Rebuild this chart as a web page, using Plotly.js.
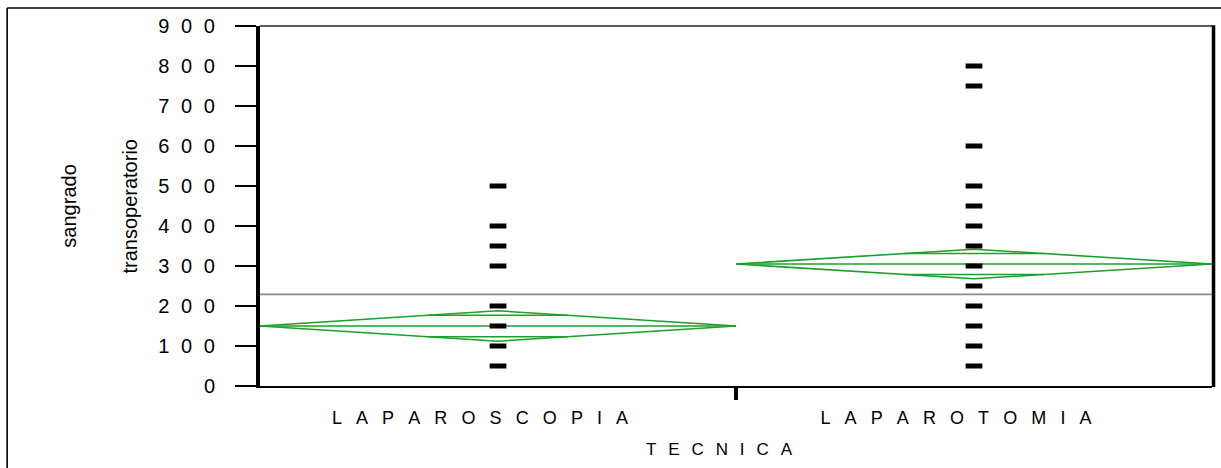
<!DOCTYPE html>
<html>
<head>
<meta charset="utf-8">
<script src="https://cdn.plot.ly/plotly-3.0.1.min.js"></script>
<style>html,body{margin:0;padding:0;background:#fff;}#chart{width:1221px;height:468px;}</style>
</head>
<body>
<div id="chart"></div>
<script>
// ---- data ----
const categories = ['LAPAROSCOPIA', 'LAPAROTOMIA'];
const laparoscopiaValues = [50, 100, 150, 200, 300, 350, 400, 500];
const laparotomiaValues = [50, 100, 150, 200, 250, 300, 350, 400, 450, 500, 600, 750, 800];
const groupMeans = [150, 305];
const ciHalfWidths = [38, 37];
const grandMean = 229;
const yTickVals = [0, 100, 200, 300, 400, 500, 600, 700, 800, 900];
const xTitle = 'TECNICA';
const yTitleLines = ['sangrado', 'transoperatorio'];

// ---- helpers ----
const spaced = (s, gap) => s.split('').join(gap);
const GREEN = '#1c9f2c';
const FONT = 'Liberation Sans, Arial, sans-serif';
const PAD = '\u2003\u2003\u200B';  // trailing pad: the labels sit slightly left of centre in the reference

const traces = [];

// grand mean line
traces.push({
  x: [-0.5, 1.5], y: [grandMean, grandMean],
  mode: 'lines', line: {color: '#8a8a8a', width: 1.6},
  hoverinfo: 'skip', showlegend: false
});

// means diamonds
categories.forEach((c, i) => {
  const m = groupMeans[i], h = ciHalfWidths[i];
  const o = h / Math.SQRT2;
  const d = 0.5 * (1 - 1 / Math.SQRT2);
  traces.push({
    x: [i - 0.5, i, i + 0.5, i, i - 0.5, null,
        i - 0.5, i + 0.5, null,
        i - d, i + d, null,
        i - d, i + d],
    y: [m, m + h, m, m - h, m, null,
        m, m, null,
        m + o, m + o, null,
        m - o, m - o],
    mode: 'lines', line: {color: GREEN, width: 1.6},
    connectgaps: false, hoverinfo: 'skip', showlegend: false
  });
});

// individual observations
[laparoscopiaValues, laparotomiaValues].forEach((vals, i) => {
  traces.push({
    x: vals.map(() => i), y: vals,
    mode: 'markers', type: 'scatter',
    marker: {symbol: 'line-ew', size: 12, line: {width: 5, color: '#000'}, color: '#000'},
    showlegend: false, cliponaxis: false
  });
});

const layout = {
  width: 1221, height: 468,
  margin: {l: 260, r: 9, t: 26, b: 82},
  paper_bgcolor: '#fff', plot_bgcolor: '#fff',
  font: {family: FONT, color: '#000'},
  showlegend: false,
  xaxis: {
    range: [-0.5, 1.5],
    tickmode: 'array', tickvals: [0, 1],
    ticktext: categories.map(c => spaced(c, '\u2002\u2009\u200A') + PAD),
    ticks: '', showgrid: false, zeroline: false,
    showline: true, linewidth: 2, linecolor: '#000',
    tickfont: {size: 18, family: FONT, color: '#000'},
    ticklabelstandoff: 14,
    minor: {tickmode: 'array', tickvals: [0.5], ticks: 'outside', ticklen: 12, tickwidth: 4, tickcolor: '#000', showgrid: false},
    title: {text: spaced(xTitle, '\u2002\u2009') + PAD, font: {size: 17, family: FONT, color: '#000'}, standoff: 17},
    fixedrange: true
  },
  yaxis: {
    range: [0, 900],
    tickmode: 'array', tickvals: yTickVals,
    ticktext: yTickVals.map(v => spaced(String(v), '\u2002\u200A')),
    ticks: 'outside', ticklen: 21, tickwidth: 2.5, tickcolor: '#000',
    showline: true, linewidth: 4, linecolor: '#000',
    showgrid: false, zeroline: false,
    tickfont: {size: 20, family: FONT, color: '#000'},
    ticklabelstandoff: 16,
    fixedrange: true
  },
  shapes: [
    // plot frame: top (thin) and right (thick)
    {type: 'line', xref: 'paper', yref: 'paper', x0: 0, x1: 1, y0: 1, y1: 1, line: {color: '#222', width: 1.5}},
    {type: 'line', xref: 'paper', yref: 'paper', x0: 1.0016, x1: 1.0016, y0: -0.003, y1: 1.002, line: {color: '#000', width: 3.5}},
    // outer report frame (top and left edges)
    {type: 'line', xref: 'paper', yref: 'paper', x0: -0.2656, x1: 1.2, y0: 1.05, y1: 1.05, line: {color: '#000', width: 1.6}},
    {type: 'line', xref: 'paper', yref: 'paper', x0: -0.2656, x1: -0.2656, y0: -0.4, y1: 1.05, line: {color: '#000', width: 1.6}}
  ],
  annotations: [
    {text: yTitleLines[0], xref: 'paper', yref: 'paper', x: -0.201, y: 0.5, textangle: -90,
     showarrow: false, xanchor: 'center', yanchor: 'middle', font: {size: 20, family: FONT, color: '#000'}},
    {text: yTitleLines[1], xref: 'paper', yref: 'paper', x: -0.137, y: 0.5, textangle: -90,
     showarrow: false, xanchor: 'center', yanchor: 'middle', font: {size: 20, family: FONT, color: '#000'}}
  ]
};

Plotly.newPlot('chart', traces, layout, {displayModeBar: false, staticPlot: true});
</script>
</body>
</html>
